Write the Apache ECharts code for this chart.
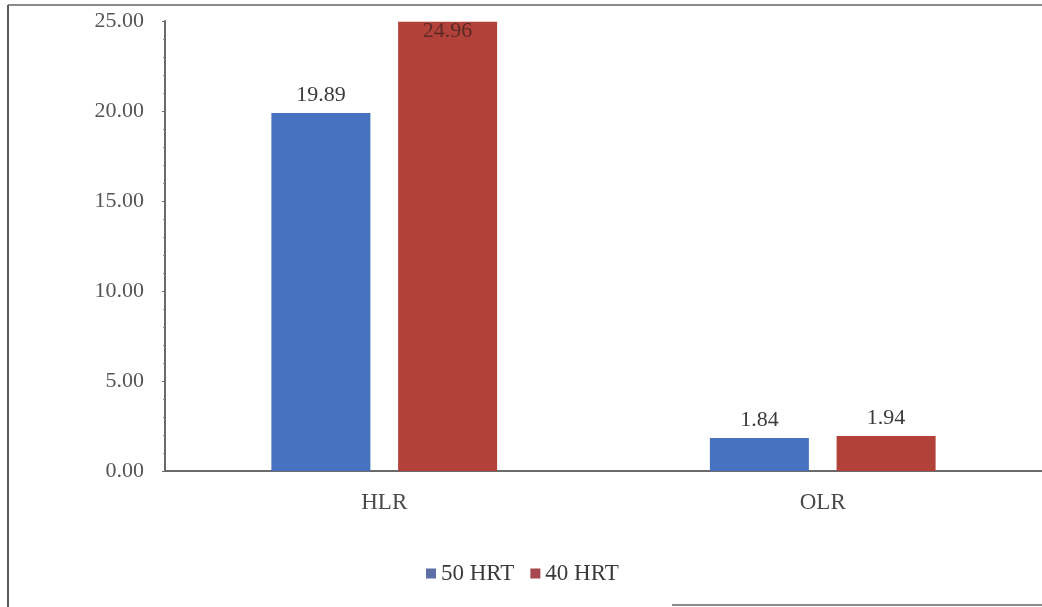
<!DOCTYPE html>
<html>
<head>
<meta charset="utf-8">
<script src="https://cdn.jsdelivr.net/npm/echarts@6/dist/echarts.min.js"></script>
<style>
  html, body { margin: 0; padding: 0; background: #ffffff; }
  #chart { width: 1042px; height: 607px; }
</style>
</head>
<body>
<div id="chart"></div>
<script>
// Loading rates under two hydraulic retention times
const categories = ['HLR', 'OLR'];
const seriesNames = ['50 HRT', '40 HRT'];
const hrt50 = [19.89, 1.84];
const hrt40 = [24.96, 1.94];
const yTicks = [0, 5, 10, 15, 20, 25];

const FONT = '"Liberation Serif", "DejaVu Serif", serif';
const BLUE = '#4672bf';
const RED = '#b2413a';

const chart = echarts.init(document.getElementById('chart'));

function withLabels(values) {
  return values.map(function (v) {
    const item = { value: v };
    // The tallest bar reaches the axis ceiling, so its label sits on the bar
    if (v >= yTicks[yTicks.length - 1] - 0.5) {
      item.label = { position: 'insideTop', distance: -2, color: '#5a2a26' };
    }
    return item;
  });
}

const valueLabel = {
  show: true, position: 'top', distance: 7,
  fontFamily: FONT, fontSize: 22, color: '#3a3a3a',
  formatter: function (p) { return p.value.toFixed(2); }
};

chart.setOption({
  animation: false,
  backgroundColor: '#ffffff',
  grid: { left: 165, right: -3, top: 21, bottom: 136, containLabel: false },
  legend: {
    data: [
      { name: seriesNames[0], itemStyle: { color: '#5b6fa6' } },
      { name: seriesNames[1], itemStyle: { color: '#a8474f' } }
    ],
    bottom: 17,
    left: 421,
    itemWidth: 10,
    itemHeight: 10,
    itemGap: 16,
    icon: 'rect',
    textStyle: { fontFamily: FONT, fontSize: 23, color: '#3a3a3a' }
  },
  xAxis: {
    type: 'category',
    data: categories,
    axisLine: { lineStyle: { color: '#6a6a6a', width: 2 } },
    axisTick: { show: false },
    axisLabel: { fontFamily: FONT, fontSize: 23, color: '#4a4a4a', margin: 20 }
  },
  yAxis: {
    type: 'value',
    min: yTicks[0],
    max: yTicks[yTicks.length - 1],
    interval: 5,
    axisLine: { show: true, lineStyle: { color: '#6a6a6a', width: 2 } },
    axisTick: { show: true, length: 3, lineStyle: { color: '#6a6a6a' } },
    minorTick: { show: true, splitNumber: 5, length: 2, lineStyle: { color: '#888' } },
    splitLine: { show: false },
    axisLabel: {
      fontFamily: FONT, fontSize: 22, color: '#555', margin: 21,
      formatter: function (v) { return v.toFixed(2); }
    }
  },
  series: [
    {
      name: seriesNames[0],
      type: 'bar',
      data: withLabels(hrt50),
      barWidth: 99,
      barGap: '28%',
      itemStyle: { color: BLUE },
      label: valueLabel
    },
    {
      name: seriesNames[1],
      type: 'bar',
      data: withLabels(hrt40),
      barWidth: 99,
      barGap: '28%',
      itemStyle: { color: RED },
      label: valueLabel
    }
  ],
  graphic: [
    // outer frame lines around the figure
    { type: 'line', shape: { x1: 8, y1: 5, x2: 1042, y2: 5 }, style: { stroke: '#8a8a8a', lineWidth: 2 } },
    { type: 'line', shape: { x1: 8, y1: 5, x2: 8, y2: 607 }, style: { stroke: '#5a5a5a', lineWidth: 2 } },
    { type: 'line', shape: { x1: 672, y1: 605, x2: 1042, y2: 605 }, style: { stroke: '#8a8a8a', lineWidth: 2 } }
  ]
});
</script>
</body>
</html>
